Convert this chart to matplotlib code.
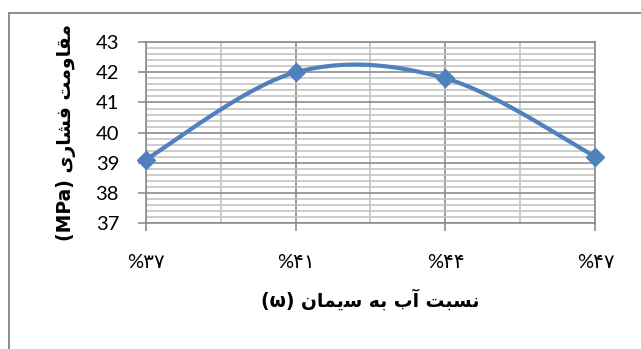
import numpy as np
import matplotlib
matplotlib.use("Agg")
import matplotlib.pyplot as plt
from matplotlib.lines import Line2D
from matplotlib.ticker import MultipleLocator, FixedLocator

# Water/cement ratio categories and compressive strength (MPa)
categories = ["%۳۷", "%۴۱", "%۴۴", "%۴۷"]
strength = [39.1, 42.0, 41.8, 39.2]
y_ticks = [37, 38, 39, 40, 41, 42, 43]

# Persian axis titles written in shaped presentation forms (visual order)
x_title = "(ω) \uFEE5\uFE8E\uFEE4\uFBFE\uFEB3 \uFEEA\uFE91 \uFE8F\uFE81 \uFE96\uFE92\uFEB4\uFEE7"
y_title = "(MPa) \uFBFC\uFEAD\uFE8E\uFEB8\uFED3 \uFE96\uFEE3\uFEED\uFE8E\uFED8\uFEE3"

LINE_BLUE = "#4F81BD"
MAJOR_GRAY = "#8C8C8C"
MINOR_GRAY = "#C4C4C4"


def smooth_curve(xs, ys, steps=60):
    """Cardinal (Catmull-Rom) Bezier smoothing through the given points."""
    pts = np.column_stack([xs, ys]).astype(float)
    ext = np.vstack([pts[0], pts, pts[-1]])
    out = []
    t = np.linspace(0, 1, steps)
    for i in range(len(pts) - 1):
        p0, p1, p2, p3 = ext[i], ext[i + 1], ext[i + 2], ext[i + 3]
        c1 = p1 + (p2 - p0) / 6.0
        c2 = p2 - (p3 - p1) / 6.0
        seg = ((1 - t) ** 3)[:, None] * p1 + (3 * (1 - t) ** 2 * t)[:, None] * c1 \
            + (3 * (1 - t) * t ** 2)[:, None] * c2 + (t ** 3)[:, None] * p2
        out.append(seg if i == 0 else seg[1:])
    curve = np.vstack(out)
    return curve[:, 0], curve[:, 1]


fig = plt.figure(figsize=(6.41, 3.49), dpi=100)
ax = fig.add_axes([0.227, 0.361, 0.702, 0.518])

x = np.arange(len(categories))
ax.set_xlim(0, len(categories) - 1)
ax.set_ylim(y_ticks[0], y_ticks[-1])

# grid
ax.yaxis.set_major_locator(FixedLocator(y_ticks))
ax.yaxis.set_minor_locator(MultipleLocator(0.2))
ax.xaxis.set_major_locator(FixedLocator(x))
ax.xaxis.set_minor_locator(MultipleLocator(0.5))
ax.grid(which="minor", axis="y", color=MINOR_GRAY, linewidth=1.2, zorder=0)
ax.grid(which="minor", axis="x", color=MINOR_GRAY, linewidth=1.2, zorder=0)
ax.grid(which="major", color=MAJOR_GRAY, linewidth=1.2, zorder=0.5)
ax.set_axisbelow(True)

for s in ax.spines.values():
    s.set_color(MAJOR_GRAY)
    s.set_linewidth(1.2)

# data
cx, cy = smooth_curve(x, strength)
ax.plot(cx, cy, color=LINE_BLUE, linewidth=3.0, solid_capstyle="round", zorder=3)
ax.plot(x, strength, linestyle="none", marker="D", markersize=9.5,
        color=LINE_BLUE, markeredgecolor=LINE_BLUE, zorder=4, clip_on=False)

ax.set_xticks(x)
ax.set_xticklabels(categories)
ax.set_yticks(y_ticks)
ax.set_yticklabels([str(v) for v in y_ticks])

tick_font = ["Lato", "DejaVu Sans"]
ax.tick_params(axis="both", which="major", length=6, width=1.2, color=MAJOR_GRAY,
               labelsize=14.5)
ax.tick_params(axis="both", which="minor", length=0)
ax.tick_params(axis="x", pad=16)
ax.tick_params(axis="y", pad=13)
for lab in ax.get_xticklabels() + ax.get_yticklabels():
    lab.set_fontfamily(tick_font)

ax.set_xlabel(x_title, fontsize=13.5, fontweight="bold", family=["DejaVu Sans"], labelpad=13)
ax.set_ylabel(y_title, fontsize=13.5, fontweight="bold", family=["DejaVu Sans"], labelpad=14)

# chart-area border
border_x = 9 / 641
border_y = 1 - 13 / 349
fig.add_artist(Line2D([border_x, border_x], [0, border_y], transform=fig.transFigure,
                      color=MAJOR_GRAY, linewidth=1.4))
fig.add_artist(Line2D([border_x, 1], [border_y, border_y], transform=fig.transFigure,
                      color=MAJOR_GRAY, linewidth=1.4))

fig.savefig("out.png", dpi=100)
